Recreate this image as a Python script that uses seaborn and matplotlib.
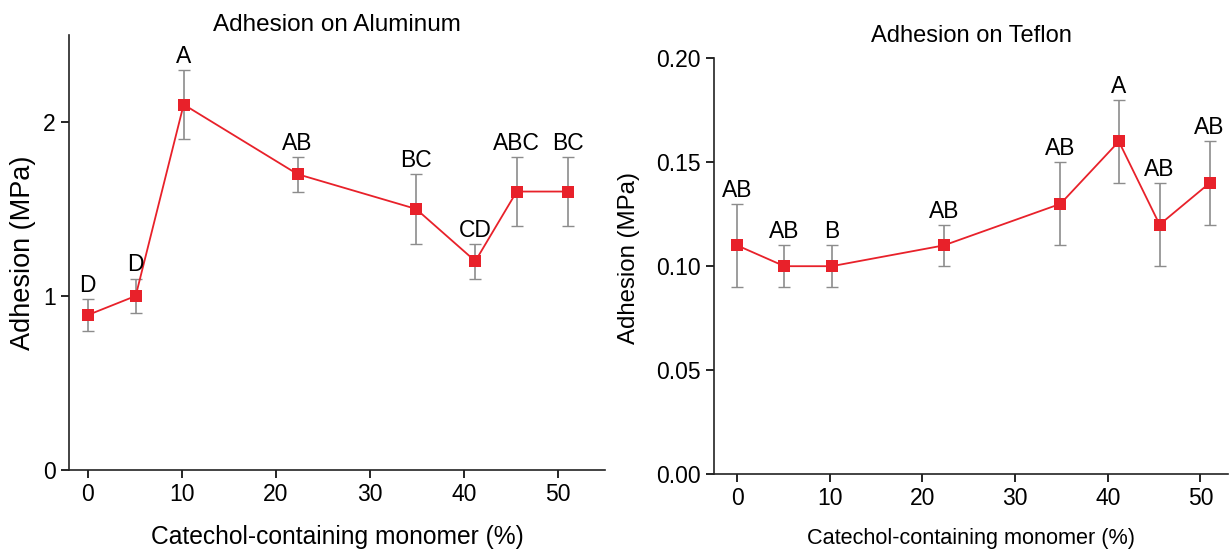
import matplotlib
matplotlib.use("Agg")
import matplotlib.pyplot as plt
import seaborn as sns
import pandas as pd

# catechol monomer content (%)
monomer = [0, 5.1, 10.2, 22.3, 34.9, 41.2, 45.6, 51.0]

# aluminum substrate
al_mean = [0.89, 1.0, 2.1, 1.7, 1.5, 1.2, 1.6, 1.6]
al_err = [0.09, 0.1, 0.2, 0.1, 0.2, 0.1, 0.2, 0.2]
al_letters = ["D", "D", "A", "AB", "BC", "CD", "ABC", "BC"]

# teflon substrate
tf_mean = [0.11, 0.10, 0.10, 0.11, 0.13, 0.16, 0.12, 0.14]
tf_err = [0.02, 0.01, 0.01, 0.01, 0.02, 0.02, 0.02, 0.02]
tf_letters = ["AB", "AB", "B", "AB", "AB", "A", "AB", "AB"]

sns.set_style("ticks")
plt.rcParams['font.family'] = ['Liberation Sans', 'DejaVu Sans']
for k in ["text.color", "axes.labelcolor", "xtick.color", "ytick.color"]:
    plt.rcParams[k] = "black"

RED = "#e8212a"
GREY = "#8c8c8c"


def draw_panel(ax, mean, err, letters):
    df = pd.DataFrame({"x": monomer, "y": mean})
    ax.errorbar(monomer, mean, yerr=err, fmt="none", ecolor=GREY,
                elinewidth=1.2, capsize=4, capthick=1.0, zorder=1)
    sns.lineplot(data=df, x="x", y="y", ax=ax, color=RED, lw=1.3,
                 marker="s", markersize=9, markeredgewidth=0,
                 markerfacecolor=RED, zorder=3)
    for x, y, e, lab in zip(monomer, mean, err, letters):
        ax.annotate(lab, (x, y + e), xytext=(0, 1.5), textcoords="offset points",
                    ha="center", va="bottom", fontsize=16.5)
    ax.set_xticks([0, 10, 20, 30, 40, 50])
    sns.despine(ax=ax)
    ax.tick_params(labelsize=16.5, length=6, width=1.2, direction="out")
    for s in ["left", "bottom"]:
        ax.spines[s].set_linewidth(1.2)
        ax.spines[s].set_color("#222222")


fig = plt.figure(figsize=(12.3, 5.5), dpi=100)
ax1 = fig.add_axes([0.056, 0.1455, 0.436, 0.791])
ax2 = fig.add_axes([0.5805, 0.138, 0.418, 0.756])

draw_panel(ax1, al_mean, al_err, al_letters)
ax1.set_ylim(0, 2.5)
ax1.set_yticks([0, 1, 2])
ax1.set_xlim(-2, 55)
ax1.set_title("Adhesion on Aluminum", fontsize=17.5, y=1.009, pad=0)
ax1.set_xlabel("Catechol-containing monomer (%)", fontsize=17.7)
ax1.set_ylabel("Adhesion (MPa)", fontsize=19.5)
ax1.xaxis.set_label_coords(0.5, -0.126)
ax1.yaxis.set_label_coords(-0.062, 0.5)

draw_panel(ax2, tf_mean, tf_err, tf_letters)
ax2.set_ylim(0, 0.2)
ax2.set_yticks([0, 0.05, 0.10, 0.15, 0.20])
ax2.set_yticklabels(["0.00", "0.05", "0.10", "0.15", "0.20"])
ax2.set_xlim(-2.5, 53)
ax2.set_title("Adhesion on Teflon", fontsize=17, pad=12)
ax2.set_xlabel("Catechol-containing monomer (%)", fontsize=15.6)
ax2.set_ylabel("Adhesion (MPa)", fontsize=17.3)
ax2.xaxis.set_label_coords(0.5, -0.13)
ax2.yaxis.set_label_coords(-0.144, 0.52)

fig.savefig("out.png", dpi=100)
